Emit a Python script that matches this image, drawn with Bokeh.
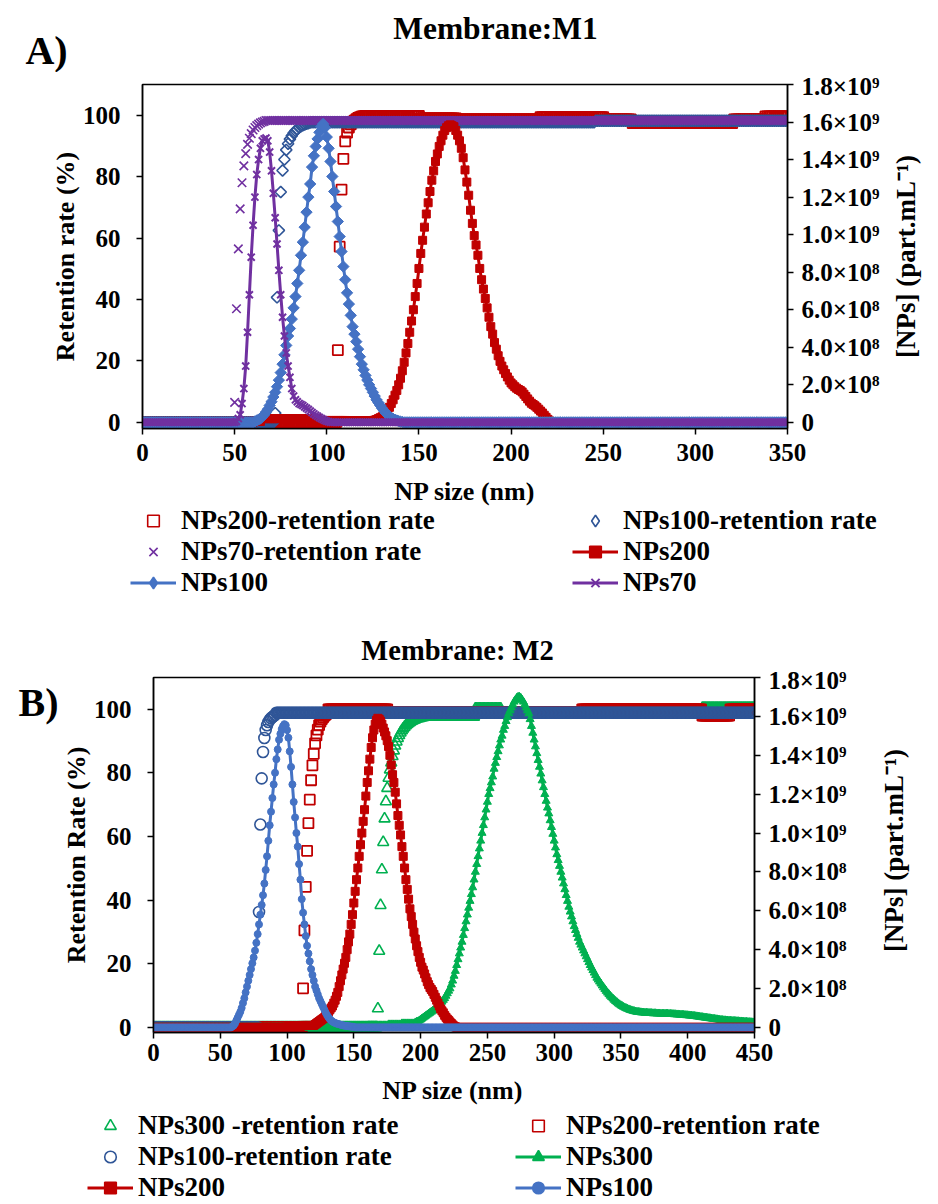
import math
from bokeh.plotting import figure
from bokeh.models import (Range1d, LinearAxis, FixedTicker, CustomJSTickFormatter,
                          Legend, LegendItem)
from bokeh.core.properties import value
from bokeh.layouts import row
from bokeh.embed import file_html
from bokeh.resources import INLINE

FONT = "Liberation Serif"

# ----------------------------------------------------------------- data
# NP size grid (nm), 1 nm bins
sizes_a = list(range(0, 351))
sizes_b = list(range(0, 451))

x_ticks_a = [0, 50, 100, 150, 200, 250, 300, 350]
x_ticks_b = [0, 50, 100, 150, 200, 250, 300, 350, 400, 450]
ret_ticks = [0, 20, 40, 60, 80, 100]
# concentration axis in units of 1e8 part/mL
conc_ticks = [0, 2, 4, 6, 8, 10, 12, 14, 16, 18]
conc_tick_labels = ["0", "2.0×10⁸", "4.0×10⁸", "6.0×10⁸", "8.0×10⁸",
                    "1.0×10⁹", "1.2×10⁹", "1.4×10⁹", "1.6×10⁹", "1.8×10⁹"]

# ---- Panel A (membrane M1): retention rate (%)
a_nps200_ret = ([0.0] * 106 +
                [23.5, 57.2, 75.8, 85.8, 91.5, 94.3, 96.0, 97.0, 97.7, 98.2,
                 98.7, 99.1, 99.4, 99.6, 99.7] +
                [99.8] * 30 + [99.0] * 20 + [98.6] * 45 + [99.4] * 35 +
                [98.6] * 15 + [97.4] * 55 + [98.6] * 17 + [99.6] * 13)
a_nps100_ret = ([0.0] * 72 +
                [3.0, 40.7, 62.5, 75.0, 82.0, 85.6, 88.7, 90.7, 92.2, 93.3,
                 94.2, 94.9, 95.5, 96.0, 96.4, 96.7, 97.0, 97.2, 97.4, 97.6] +
                [97.7] * 154 + [98.2] * 105)
a_nps70_ret = ([0.0] * 50 +
               [6.5, 37.0, 56.5, 69.5, 78.0, 83.5, 87.5, 90.5, 92.5, 94.0,
                95.2, 96.0, 96.6, 97.1, 97.5, 97.8, 98.0] +
               [98.3] * 284)

# ---- Panel A: concentration (x 1e8 part/mL)
a_nps200_conc = ([0.0] * 61 + [0.05] * 4 + [0.2] * 31 + [0.1] * 15 + [0.08] * 14 +
                 [0.1, 0.12, 0.15, 0.2, 0.25, 0.3, 0.4, 0.5, 0.65, 0.8,
                  1.0, 1.2, 1.45, 1.7, 2.0, 2.35, 2.75, 3.2, 3.7, 4.2,
                  4.8, 5.4, 6.0, 6.7, 7.4, 8.2, 9.0, 9.7, 10.4, 11.1,
                  11.7, 12.3, 12.9, 13.4, 13.9, 14.3, 14.7, 15.0, 15.3, 15.55,
                  15.7, 15.8, 15.85, 15.8, 15.75, 15.55, 15.3, 15.0, 14.6, 14.1,
                  13.45, 12.8, 12.1, 11.3, 10.6, 9.95, 9.45, 8.9, 8.2, 7.6,
                  7.1, 6.6, 6.1, 5.6, 5.1, 4.7, 4.25, 3.9, 3.55, 3.25,
                  3.0, 2.8, 2.6, 2.42, 2.25, 2.1, 2.0, 1.9, 1.82, 1.75,
                  1.7, 1.62, 1.5, 1.38, 1.25, 1.13, 1.02, 0.95, 0.88, 0.8,
                  0.7, 0.6, 0.5, 0.38, 0.27, 0.16, 0.07] +
                 [0.0] * 129)
a_nps100_conc = ([0.0] * 61 +
                 [0.05, 0.1, 0.15, 0.2, 0.3, 0.4, 0.55, 0.7, 0.9, 1.1,
                  1.35, 1.6, 1.9, 2.25, 2.65, 3.1, 3.6, 4.1, 4.6, 5.0,
                  5.5, 6.1, 6.7, 7.4, 8.1, 8.9, 9.6, 10.4, 11.2, 12.0,
                  12.7, 13.6, 14.2, 14.7, 15.1, 15.45, 15.75, 15.9, 15.7, 15.2,
                  14.6, 13.9, 13.1, 12.3, 11.5, 10.7, 9.9, 9.1, 8.3, 7.6,
                  6.9, 6.3, 5.7, 5.1, 4.7, 4.3, 3.9, 3.5, 3.1, 2.8,
                  2.5, 2.25, 2.0, 1.8, 1.6, 1.4, 1.2, 1.05, 0.9, 0.75,
                  0.62, 0.5, 0.4, 0.32, 0.25, 0.19, 0.14, 0.1, 0.07, 0.04, 0.02] +
                 [0.0] * 209)
a_nps70_conc = ([0.0] * 51 +
                [0.05, 0.2, 0.4, 1.0, 1.8, 3.0, 4.8, 6.8, 8.8, 10.5,
                 12.0, 13.2, 14.0, 14.6, 15.0, 15.1, 15.15, 15.0, 14.4, 13.4,
                 12.2, 10.9, 9.5, 8.1, 6.8, 5.6, 4.6, 3.7, 3.0, 2.4,
                 1.8, 1.4, 1.2, 1.1, 1.0, 0.95, 0.9, 0.82, 0.75, 0.68,
                 0.6, 0.52, 0.45, 0.38, 0.32, 0.26, 0.2, 0.15, 0.1, 0.06,
                 0.03, 0.01] +
                [0.0] * 248)

# ---- Panel B (membrane M2): retention rate (%)
b_nps300_ret = ([0.0] * 168 +
                [5.9, 24.0, 38.4, 49.6, 58.2, 65.6, 71.0, 75.2, 78.4, 81.0,
                 83.2, 85.2, 87.0, 88.5, 89.8, 90.9, 91.8, 92.6, 93.3, 93.9,
                 94.4, 94.9, 95.3, 95.6, 95.9, 96.2, 96.4, 96.6, 96.8, 97.0,
                 97.1, 97.2, 97.3, 97.4, 97.5, 97.6, 97.7, 97.8] +
                [97.6] * 35 + [100.2] * 20 + [98.9] * 150 + [100.4] * 40)
b_nps200_ret = ([0.0] * 112 +
                [12.3, 30.5, 44.2, 55.5, 64.2, 71.6, 77.7, 82.4, 86.0, 89.3,
                 91.8, 93.6, 95.0, 96.1, 96.9, 97.5, 98.0, 98.4, 98.8] +
                [100.0] * 45 + [99.0] * 145 + [100.0] * 90 + [98.0] * 21 + [100.0] * 19)
b_nps100_ret = ([0.0] * 79 +
                [36.3, 63.8, 78.3, 86.6, 91.0, 93.5, 95.0, 96.0, 96.7, 97.2,
                 97.6, 97.9, 98.2] +
                [98.9] * 359)

# ---- Panel B: concentration (x 1e8 part/mL)
b_nps300_conc = ([0.0] * 141 + [0.05] * 20 + [0.1] * 15 + [0.15] * 10 + [0.2] * 10 +
                 [0.25, 0.28, 0.3, 0.35, 0.4, 0.45, 0.5, 0.55, 0.6, 0.65,
                  0.7, 0.75, 0.8, 0.85, 0.9, 0.95, 1.0, 1.08, 1.16, 1.24,
                  1.32, 1.41, 1.5, 1.62, 1.75, 1.88, 2.0, 2.2, 2.4, 2.65,
                  2.9, 3.2, 3.5, 3.8, 4.1, 4.4, 4.75, 5.1, 5.45, 5.8,
                  6.15, 6.5, 6.85, 7.2, 7.6, 8.0, 8.4, 8.8, 9.2, 9.6,
                  10.0, 10.4, 10.8, 11.2, 11.6, 12.0, 12.3, 12.6, 12.9, 13.3,
                  13.6, 13.9, 14.2, 14.5, 14.8, 15.0, 15.3, 15.5, 15.75, 15.95,
                  16.15, 16.3, 16.45, 16.6, 16.75, 16.85, 16.95, 17.0, 17.0, 16.95] +
                 [16.85, 16.75, 16.6, 16.45, 16.3, 16.15, 15.85, 15.5, 15.15, 14.8,
                  14.45, 14.1, 13.75, 13.4, 13.05, 12.7, 12.35, 12.0, 11.65, 11.3,
                  11.0, 10.65, 10.3, 9.95, 9.6, 9.25, 8.9, 8.6, 8.3, 8.0,
                  7.7, 7.4, 7.1, 6.8, 6.5, 6.2, 5.95, 5.7, 5.45, 5.2,
                  5.0, 4.8, 4.6, 4.4, 4.25, 4.1, 3.95, 3.8, 3.65, 3.5,
                  3.35, 3.2, 3.07, 2.94, 2.81, 2.68, 2.55, 2.45, 2.35, 2.25,
                  2.15, 2.05, 1.96, 1.87, 1.78, 1.7, 1.62, 1.55, 1.48, 1.41,
                  1.35, 1.29, 1.23, 1.18, 1.13, 1.09, 1.05, 1.01, 0.98, 0.95,
                  0.92, 0.89, 0.87, 0.85, 0.83, 0.81, 0.8, 0.79, 0.78, 0.77] +
                 [0.76, 0.76, 0.75, 0.75, 0.74, 0.74, 0.73, 0.73, 0.72, 0.72,
                  0.72, 0.71, 0.71, 0.71, 0.7, 0.7, 0.7, 0.7, 0.7, 0.7,
                  0.69, 0.69, 0.68, 0.68, 0.67, 0.67, 0.66, 0.66, 0.65, 0.65,
                  0.64, 0.64, 0.63, 0.62, 0.62, 0.61, 0.6, 0.6, 0.59, 0.58,
                  0.57, 0.56, 0.55, 0.54, 0.53, 0.52, 0.51, 0.5, 0.49, 0.48,
                  0.47, 0.46, 0.45, 0.44, 0.43, 0.42, 0.41, 0.4, 0.39, 0.38,
                  0.37, 0.36, 0.36, 0.35, 0.35, 0.34, 0.34, 0.33, 0.33, 0.32,
                  0.32, 0.31, 0.31, 0.3, 0.3, 0.29, 0.29, 0.28, 0.28, 0.27,
                  0.27, 0.26, 0.26, 0.25, 0.25])
b_nps200_conc = ([0.0] * 101 + [0.05] * 10 + [0.1] * 10 +
                 [0.15, 0.2, 0.25, 0.3, 0.35, 0.4, 0.45, 0.5, 0.6, 0.7,
                  0.8, 0.9, 1.0, 1.1, 1.25, 1.4, 1.6, 1.8, 2.1, 2.4,
                  2.7, 3.0, 3.3, 3.6, 4.0, 4.4, 4.8, 5.3, 5.8, 6.4,
                  7.0, 7.6, 8.2, 8.8, 9.4, 10.0, 10.6, 11.2, 11.9, 12.6,
                  13.2, 13.8, 14.4, 14.9, 15.3, 15.6, 15.8, 15.9, 15.85, 15.75,
                  15.6, 15.4, 15.2, 15.0, 14.75, 14.45, 14.0, 13.5, 13.0, 12.6,
                  12.1, 11.5, 10.9, 10.4, 9.9, 9.3, 8.8, 8.2, 7.6, 7.1,
                  6.6, 6.1, 5.7, 5.3, 4.9, 4.55, 4.2, 3.9, 3.6, 3.35,
                  3.1, 2.95, 2.75, 2.55, 2.35, 2.2, 2.05, 1.95, 1.85, 1.7,
                  1.55, 1.4, 1.25, 1.1, 0.95, 0.85, 0.75, 0.62, 0.52, 0.43,
                  0.36, 0.28, 0.2, 0.13, 0.07, 0.03] +
                 [0.0] * 224)
b_nps100_conc = ([0.0] * 59 +
                 [0.05, 0.1, 0.2, 0.35, 0.5, 0.65, 0.8, 1.0, 1.25, 1.5,
                  1.8, 2.1, 2.4, 2.7, 3.0, 3.3, 3.6, 3.95, 4.35, 4.8,
                  5.3, 5.8, 6.3, 6.8, 7.4, 8.1, 8.8, 9.6, 10.4, 11.1,
                  11.8, 12.5, 13.1, 13.8, 14.3, 14.8, 15.1, 15.35, 15.5, 15.6,
                  15.55, 15.3, 14.9, 14.2, 13.4, 12.5, 11.6, 10.8, 10.0, 9.3,
                  8.4, 7.6, 6.6, 5.9, 5.3, 4.7, 4.2, 3.8, 3.4, 3.0,
                  2.7, 2.4, 2.1, 1.9, 1.7, 1.5, 1.35, 1.2, 1.05, 0.9,
                  0.75, 0.62, 0.52, 0.43, 0.36, 0.3, 0.26, 0.23, 0.2, 0.18,
                  0.16, 0.14, 0.12, 0.1, 0.09, 0.08, 0.07, 0.06, 0.05, 0.04,
                  0.03, 0.02] +
                 [0.0] * 300)

# ----------------------------------------------------------------- colours
RED = "#C00000"
PURPLE = "#7030A0"
BLUE = "#4472C4"
DBLUE = "#2F5597"
GREEN = "#00B050"
PAGE_W = 938
NAN = float("nan")


def xs(sizes, vals):
    return sizes[:len(vals)]


def bare_fig(width, height, xr, yr, top=0, bottom=0):
    f = figure(width=width, height=height, output_backend="svg", toolbar_location=None,
               x_range=xr, y_range=yr, x_axis_location=None, y_axis_location=None,
               min_border_left=0, min_border_right=0,
               min_border_top=top, min_border_bottom=bottom)
    f.title.visible = False
    f.xgrid.visible = False
    f.ygrid.visible = False
    f.outline_line_color = None
    f.background_fill_color = "white"
    f.border_fill_color = "white"
    return f


def put_texts(f, items):
    for (x, y, t, size, ang) in items:
        f.text(x=[x], y=[y], text=[t], angle=ang, text_font=value(FONT),
               text_font_style="bold", text_font_size=value(size), text_color="black",
               text_align="center", text_baseline="middle")


def header(y0, y1, items):
    """Full-width text band between page rows y0..y1 (page pixel coordinates)."""
    f = bare_fig(PAGE_W, y1 - y0, Range1d(0, PAGE_W), Range1d(y1, y0))
    put_texts(f, items)
    return f


def side_strip(x0, x1, frame_top, frame_bot, top, bottom, items):
    """Narrow text column beside a plot; its frame matches the plot frame."""
    f = bare_fig(x1 - x0, top + (frame_bot - frame_top) + bottom,
                 Range1d(x0, x1), Range1d(frame_bot, frame_top), top, bottom)
    put_texts(f, items)
    return f


def style_axis(ax, standoff, label_standoff, tick_size="25px", label_size="26px"):
    ax.axis_line_color = "black"
    ax.axis_line_width = 1.5
    ax.major_tick_line_color = "black"
    ax.major_tick_line_width = 1.5
    ax.major_tick_out = 6
    ax.major_tick_in = 0
    ax.minor_tick_line_color = None
    ax.major_label_text_font = FONT
    ax.major_label_text_font_style = "bold"
    ax.major_label_text_font_size = tick_size
    ax.major_label_text_color = "black"
    ax.major_label_standoff = standoff
    ax.axis_label_text_font = FONT
    ax.axis_label_text_font_style = "bold"
    ax.axis_label_text_font_size = label_size
    ax.axis_label_text_color = "black"
    ax.axis_label_standoff = label_standoff


def make_plot(width, height, borders, x_end, x_ticks, y_start, x_standoff, left_standoff,
              ytitle):
    left, right, top, bottom = borders
    p = figure(width=width, height=height, output_backend="svg", toolbar_location=None,
               x_range=Range1d(0, x_end), y_range=Range1d(y_start, 110),
               min_border_left=left, min_border_right=right,
               min_border_top=top, min_border_bottom=bottom)
    p.title.visible = False
    p.extra_y_ranges = {"conc": Range1d(y_start / 110 * 18, 18)}
    p.xgrid.visible = False
    p.ygrid.visible = False
    p.outline_line_color = "black"
    p.outline_line_width = 1.5
    p.outline_line_alpha = 1
    p.background_fill_color = "white"
    p.border_fill_color = "white"
    p.xaxis.ticker = FixedTicker(ticks=x_ticks)
    style_axis(p.xaxis[0], x_standoff, 0)
    p.yaxis.ticker = FixedTicker(ticks=ret_ticks)
    if ytitle:
        p.yaxis.axis_label = ytitle
    style_axis(p.yaxis[0], left_standoff, 0)
    right_ax = LinearAxis(y_range_name="conc", ticker=FixedTicker(ticks=conc_ticks),
                          formatter=CustomJSTickFormatter(
                              args=dict(tvals=conc_ticks, tlabels=conc_tick_labels),
                              code="""
for (let i = 0; i < tvals.length; i++) {
  if (Math.abs(tvals[i] - tick) < 1e-6) { return tlabels[i]; }
}
return "";
"""))
    style_axis(right_ax, 8, 0)
    p.add_layout(right_ax, "right")
    return p


def open_markers(p, sizes, vals, marker, color, size, angle=0.0, lw=1.6):
    p.scatter(xs(sizes, vals), vals, marker=marker, size=size, angle=angle,
              line_color=color, fill_color=None, line_width=lw)


def conc_series(p, sizes, vals, marker, color, size, angle=0.0, lw=3):
    p.line(xs(sizes, vals), vals, line_color=color, line_width=lw, y_range_name="conc")
    if marker == "x":
        p.scatter(xs(sizes, vals), vals, marker="x", size=size, line_color=color,
                  line_width=2, y_range_name="conc")
    else:
        p.scatter(xs(sizes, vals), vals, marker=marker, size=size, angle=angle,
                  line_color=color, fill_color=color, y_range_name="conc")


def legend_band(y0, y1, texts, entries, loc, label_width, row_h, font_size):
    """Band under a plot: x-axis title plus the legend (style keys, no visible data)."""
    f = bare_fig(PAGE_W, y1 - y0, Range1d(0, PAGE_W), Range1d(y1, y0))
    put_texts(f, texts)
    items = []
    for (label, with_line, marker, color, size, filled) in entries:
        rs = []
        if with_line:
            rs.append(f.line([NAN], [NAN], line_color=color, line_width=3))
        if marker == "x":
            rs.append(f.scatter([NAN], [NAN], marker="x", size=size, line_color=color,
                                line_width=2 if with_line else 1.6))
        else:
            rs.append(f.scatter([NAN], [NAN], marker=marker, size=size,
                                line_color=color, line_width=1.6,
                                fill_color=color if filled else None))
        items.append(LegendItem(label=label, renderers=rs))
    f.add_layout(Legend(items=items, location=loc, orientation="horizontal", ncols=2,
                        glyph_width=46, glyph_height=row_h, label_height=row_h,
                        label_width=label_width, label_standoff=5, spacing=0,
                        padding=0, margin=0, border_line_color=None,
                        background_fill_alpha=0,
                        label_text_font=FONT, label_text_font_style="bold",
                        label_text_font_size=font_size, label_text_color="black"))
    return f


# ----------------------------------------------------------------- panel A
head_a = header(0, 72, [(46, 50, "A)", "40px", 0.0),
                        (495, 28, "Membrane:M1", "31.5px", 0.0)])

# frame: x 142..787, y 84..428 (page pixels)
pa = make_plot(884, 402, (142, 97, 12, 46), 350, x_ticks_a, -2, 9, 16, "Retention rate (%)")
open_markers(pa, sizes_a, a_nps200_ret, "square", RED, 10, lw=1.8)
open_markers(pa, sizes_a, a_nps100_ret, "square", DBLUE, 8, angle=math.pi / 4, lw=1.6)
pa.scatter(xs(sizes_a, a_nps70_ret), a_nps70_ret, marker="x", size=12,
           line_color=PURPLE, line_width=1.6)
conc_series(pa, sizes_a, a_nps200_conc, "square", RED, 8)
conc_series(pa, sizes_a, a_nps100_conc, "square", BLUE, 8, angle=math.pi / 4)
conc_series(pa, sizes_a, a_nps70_conc, "x", PURPLE, 10)
right_a = side_strip(884, 938, 84, 428, 12, 46,
                     [(905, 256, "[NPs] (part.mL⁻¹)", "27px", math.pi / 2)])
row_a = row(pa, right_a, spacing=0)

leg_a = legend_band(474, 598, [(464.5, 491, "NP size (nm)", "26px", 0.0)], [
    ("NPs200-retention rate", False, "square", RED, 10, False),
    ("NPs100-retention rate", False, "diamond", DBLUE, 12, False),
    ("NPs70-retention rate", False, "x", PURPLE, 12, False),
    ("NPs200", True, "square", RED, 8, True),
    ("NPs100", True, "diamond", BLUE, 12, True),
    ("NPs70", True, "x", PURPLE, 10, True),
], (130, 0), 391, 29, "27px")

# ----------------------------------------------------------------- panel B
head_b = header(598, 666, [(457, 650, "Membrane: M2", "28.5px", 0.0)])

# frame: x 151..754, y 677..1032 (page pixels)
left_b = side_strip(0, 58, 677, 1032, 11, 42, [(38, 702, "B)", "40px", 0.0)])
pb = make_plot(808, 408, (93, 112, 11, 42), 450, x_ticks_b, -1.6, 5, 16,
               "Retention Rate (%)")
open_markers(pb, sizes_b, b_nps300_ret, "triangle", GREEN, 11)
open_markers(pb, sizes_b, b_nps200_ret, "square", RED, 10, lw=1.8)
open_markers(pb, sizes_b, b_nps100_ret, "circle", DBLUE, 11)
conc_series(pb, sizes_b, b_nps300_conc, "triangle", GREEN, 8)
conc_series(pb, sizes_b, b_nps200_conc, "square", RED, 8)
conc_series(pb, sizes_b, b_nps100_conc, "circle", BLUE, 7)
right_b = side_strip(866, 938, 677, 1032, 11, 42,
                     [(893, 850, "[NPs] (part.mL⁻¹)", "27px", math.pi / 2)])
row_b = row(left_b, pb, right_b, spacing=0)

leg_b = legend_band(1074, 1204, [(452.5, 1090, "NP size (nm)", "26px", 0.0)], [
    ("NPs300 -retention rate", False, "triangle", GREEN, 11, False),
    ("NPs200-retention rate", False, "square", RED, 10, False),
    ("NPs100-retention rate", False, "circle", DBLUE, 11, False),
    ("NPs300", True, "triangle", GREEN, 8, True),
    ("NPs200", True, "square", RED, 8, True),
    ("NPs100", True, "circle", BLUE, 7, True),
], (87, 1), 377, 29, "27px")

open("out.html", "w").write(file_html([head_a, row_a, leg_a, head_b, row_b, leg_b], INLINE))
